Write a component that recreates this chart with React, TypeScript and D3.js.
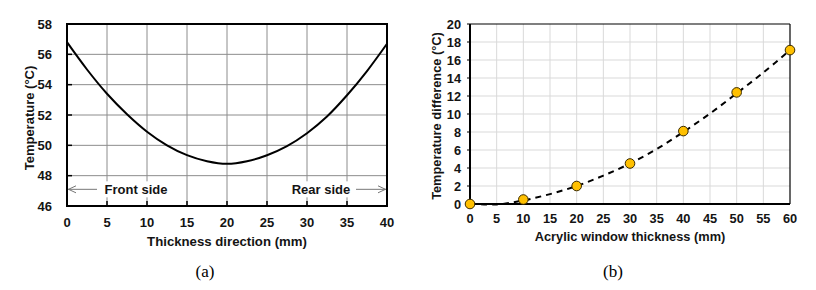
import React from "react";
import * as d3 from "d3";

// Chart (a): temperature profile through thickness
const posA = [0, 2.5, 5, 7.5, 10, 12.5, 15, 17.5, 20, 22.5, 25, 27.5, 30, 32.5, 35, 37.5, 40];
const tempA = [56.8, 55.0, 53.4, 52.05, 50.9, 50.0, 49.35, 48.95, 48.78, 48.95, 49.35, 49.95, 50.8, 51.9, 53.3, 54.9, 56.7];
const xTicksA = [0, 5, 10, 15, 20, 25, 30, 35, 40];
const yTicksA = [46, 48, 50, 52, 54, 56, 58];

// Chart (b): temperature difference vs acrylic thickness
const thickB = [0, 10, 20, 30, 40, 50, 60];
const diffB = [0, 0.5, 2.0, 4.5, 8.1, 12.4, 17.1];
const trendX = [0, 5, 10, 15, 20, 25, 30, 35, 40, 45, 50, 55, 60];
const trendY = [0.05, -0.05, 0.4, 1.1, 2.0, 3.15, 4.5, 6.1, 8.0, 10.05, 12.3, 14.6, 17.1];
const xTicksB = [0, 5, 10, 15, 20, 25, 30, 35, 40, 45, 50, 55, 60];
const yTicksB = [0, 2, 4, 6, 8, 10, 12, 14, 16, 18, 20];

const FONT = "'Liberation Sans', Arial, sans-serif";
const TXT = "#141414";

function ChartA() {
  const L = 67, R = 387, T = 24, B = 206;
  const x = d3.scaleLinear().domain([0, 40]).range([L, R]);
  const y = d3.scaleLinear().domain([46, 58]).range([B, T]);
  const line = d3.line<number>().x((_, i) => x(posA[i])).y((d) => y(d)).curve(d3.curveCatmullRom);
  const ay = y(47.1);
  return (
    <g>
      {xTicksA.slice(1, -1).map((t) => (
        <line key={"gx" + t} x1={x(t)} x2={x(t)} y1={T} y2={B} stroke="#8c8c8c" strokeWidth={1} />
      ))}
      {yTicksA.slice(1, -1).map((t) => (
        <line key={"gy" + t} x1={L} x2={R} y1={y(t)} y2={y(t)} stroke="#8c8c8c" strokeWidth={1} />
      ))}
      {/* label boxes covering grid */}
      <rect x={x(4.6)} y={ay - 8} width={x(10.8) - x(4.6)} height={16} fill="#fff" />
      <rect x={x(29.2)} y={ay - 8} width={x(35.6) - x(29.2)} height={16} fill="#fff" />
      {/* inside ticks */}
      {xTicksA.slice(1, -1).map((t) => (
        <line key={"tx" + t} x1={x(t)} x2={x(t)} y1={B} y2={B - 5} stroke="#000" strokeWidth={1.5} />
      ))}
      {yTicksA.slice(1, -1).map((t) => (
        <line key={"ty" + t} x1={L} x2={L + 5} y1={y(t)} y2={y(t)} stroke="#000" strokeWidth={1.5} />
      ))}
      <path d={line(tempA) || ""} fill="none" stroke="#000" strokeWidth={2} />
      {/* arrows */}
      <line x1={L + 1} x2={97} y1={ay} y2={ay} stroke="#777" strokeWidth={1} />
      <path d={`M${L + 9},${ay - 3.5} L${L + 1.5},${ay} L${L + 9},${ay + 3.5}`} fill="none" stroke="#777" strokeWidth={1} />
      <line x1={356} x2={R - 1} y1={ay} y2={ay} stroke="#777" strokeWidth={1} />
      <path d={`M${R - 9},${ay - 3.5} L${R - 1.5},${ay} L${R - 9},${ay + 3.5}`} fill="none" stroke="#777" strokeWidth={1} />
      <text x={136} y={ay + 4.5} textAnchor="middle" fontFamily={FONT} fontWeight="bold" fontSize={13} fill={TXT}>Front side</text>
      <text x={321} y={ay + 4.5} textAnchor="middle" fontFamily={FONT} fontWeight="bold" fontSize={13} fill={TXT}>Rear side</text>
      <rect x={L} y={T} width={R - L} height={B - T} fill="none" stroke="#000" strokeWidth={2} />
      {xTicksA.map((t) => (
        <text key={"lx" + t} x={x(t)} y={227} textAnchor="middle" fontFamily={FONT} fontWeight="bold" fontSize={13} fill={TXT}>{t}</text>
      ))}
      {yTicksA.map((t) => (
        <text key={"ly" + t} x={52} y={y(t) + 4.5} textAnchor="end" fontFamily={FONT} fontWeight="bold" fontSize={13} fill={TXT}>{t}</text>
      ))}
      <text x={227} y={246} textAnchor="middle" fontFamily={FONT} fontWeight="bold" fontSize={13.2} fill={TXT}>Thickness direction (mm)</text>
      <text transform={`translate(34,118) rotate(-90)`} textAnchor="middle" fontFamily={FONT} fontWeight="bold" fontSize={13} fill={TXT}>Temperature (°C)</text>
      <text x={205} y={277} textAnchor="middle" fontFamily="'Liberation Serif', 'Times New Roman', serif" fontSize={17} fill="#000">(a)</text>
    </g>
  );
}

function ChartB() {
  const L = 470, R = 790, T = 24, B = 204;
  const x = d3.scaleLinear().domain([0, 60]).range([L, R]);
  const y = d3.scaleLinear().domain([0, 20]).range([B, T]);
  const trend = d3.line<number>().x((_, i) => x(trendX[i])).y((d) => y(d)).curve(d3.curveCatmullRom);
  return (
    <g>
      {xTicksB.slice(1, -1).map((t) => (
        <line key={"gx" + t} x1={x(t)} x2={x(t)} y1={T} y2={B} stroke="#d9d9d9" strokeWidth={1} />
      ))}
      {yTicksB.slice(1, -1).map((t) => (
        <line key={"gy" + t} x1={L} x2={R} y1={y(t)} y2={y(t)} stroke="#d9d9d9" strokeWidth={1} />
      ))}
      {yTicksB.map((t) => (
        <line key={"ty" + t} x1={L - 3} x2={L} y1={y(t)} y2={y(t)} stroke="#000" strokeWidth={1} />
      ))}
      <line x1={L} x2={R} y1={T} y2={T} stroke="#000" strokeWidth={1.2} />
      <line x1={R} x2={R} y1={T} y2={B} stroke="#000" strokeWidth={1.2} />
      <line x1={L} x2={L} y1={T} y2={B + 1} stroke="#000" strokeWidth={2} />
      <line x1={L - 1} x2={R} y1={B} y2={B} stroke="#000" strokeWidth={2} />
      <path d={trend(trendY) || ""} fill="none" stroke="#000" strokeWidth={2} strokeDasharray="6,5" />
      {thickB.map((t, i) => (
        <circle key={"p" + t} cx={x(t)} cy={y(diffB[i])} r={4.8} fill="#FFC000" stroke="#3a2a00" strokeWidth={1} />
      ))}
      {xTicksB.map((t) => (
        <text key={"lx" + t} x={x(t)} y={223} textAnchor="middle" fontFamily={FONT} fontWeight="bold" fontSize={12.8} fill={TXT}>{t}</text>
      ))}
      {yTicksB.map((t) => (
        <text key={"ly" + t} x={461} y={y(t) + 4.5} textAnchor="end" fontFamily={FONT} fontWeight="bold" fontSize={12.8} fill={TXT}>{t}</text>
      ))}
      <text x={630} y={241} textAnchor="middle" fontFamily={FONT} fontWeight="bold" fontSize={12.8} fill={TXT}>Acrylic window thickness (mm)</text>
      <text transform={`translate(441,116) rotate(-90)`} textAnchor="middle" fontFamily={FONT} fontWeight="bold" fontSize={12.8} fill={TXT}>Temperature difference (°C)</text>
      <text x={613} y={277} textAnchor="middle" fontFamily="'Liberation Serif', 'Times New Roman', serif" fontSize={17} fill="#000">(b)</text>
    </g>
  );
}

export default function App() {
  return (
    <svg width={816} height={290} style={{ position: "absolute", left: 0, top: 0, background: "#fff" }}>
      <rect width={816} height={290} fill="#fff" />
      <ChartA />
      <ChartB />
    </svg>
  );
}
